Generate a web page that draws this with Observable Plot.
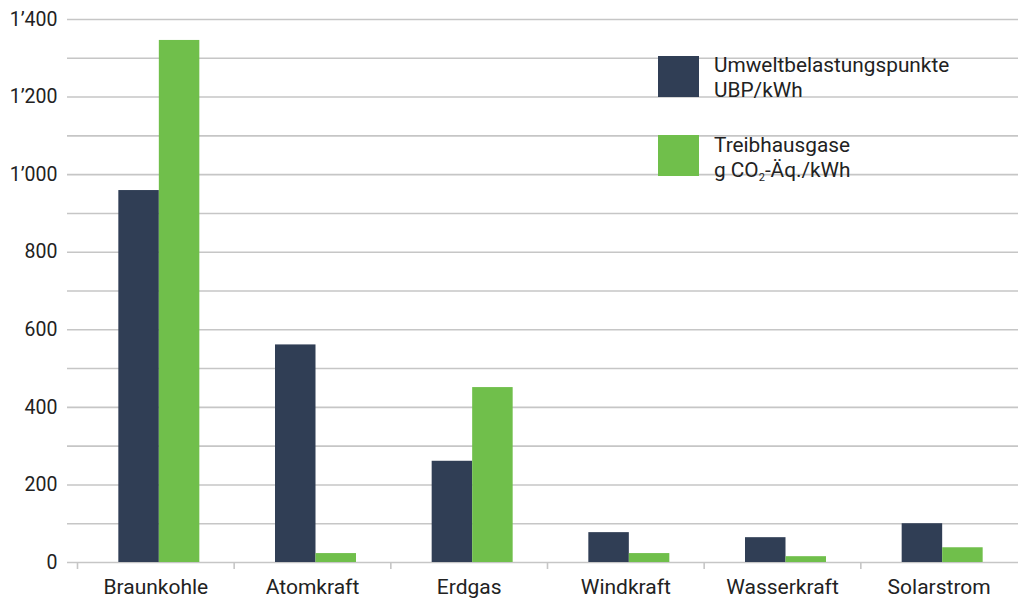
<!DOCTYPE html>
<html>
<head>
<meta charset="utf-8">
<script src="https://cdn.jsdelivr.net/npm/d3@7"></script>
<script src="https://cdn.jsdelivr.net/npm/@observablehq/plot@0.6"></script>
<style>
  body { margin: 0; background: #fff; font-family: Roboto, "Noto Sans", sans-serif; color: #222; }
  #wrap { position: relative; width: 1018px; height: 602px; }
  .sw { position: absolute; left: 658px; width: 41px; height: 41px; }
  .lt { position: absolute; left: 714px; font-size: 20.8px; line-height: 25px; color: #222; white-space: nowrap; }
  .lt sub { font-size: 11px; vertical-align: -4px; line-height: 0; }
</style>
</head>
<body>
<div id="wrap"></div>
<script>
// ---- data ----
const categories = ["Braunkohle", "Atomkraft", "Erdgas", "Windkraft", "Wasserkraft", "Solarstrom"];
const ubpValues = [959, 561, 261, 77, 64, 100];        // Umweltbelastungspunkte UBP/kWh
const co2Values = [1346, 23, 451, 23, 15, 38];          // Treibhausgase g CO2-Äq./kWh
const yTickValues = [0, 200, 400, 600, 800, 1000, 1200, 1400];
const gridValues = [0, 100, 200, 300, 400, 500, 600, 700, 800, 900, 1000, 1100, 1200, 1300, 1400];
const seriesNames = ["Umweltbelastungspunkte", "Treibhausgase"];
const seriesColors = ["#303e55", "#70bf4b"];

const rows = categories.map((c, i) => ({cat: c, ubp: ubpValues[i], co2: co2Values[i]}));

const fmt = d3.formatLocale({decimal: ".", thousands: "\u2019", grouping: [3], currency: ["", ""]}).format(",");

const W = 1018, H = 602;
const xRange = [77, 1017];
const band = (xRange[1] - xRange[0]) / categories.length;
const barW = 40.5, shift = 3.5;
const leftStart = band / 2 - barW + shift;

const plot = Plot.plot({
  width: W,
  height: H,
  marginLeft: 67,
  marginRight: 0,
  marginTop: 19,
  marginBottom: 40,
  style: {fontFamily: "Roboto, 'Noto Sans', sans-serif", fontSize: "19px", color: "#222", background: "#fff"},
  x: {domain: categories, range: xRange, padding: 0, round: false, label: null},
  y: {domain: [0, 1400], nice: false, label: null},
  marks: [
    Plot.ruleY(gridValues, {stroke: "#c6c6c6", strokeWidth: 1.6}),
    Plot.ruleX(categories, {x: d => d, y1: 0, y2: 0, insetBottom: -7, dx: -band / 2, stroke: "#c6c6c6", strokeWidth: 1.6}),
    Plot.barY(rows, {x: "cat", y: "ubp", fill: seriesColors[0], insetLeft: leftStart, insetRight: band - leftStart - barW}),
    Plot.barY(rows, {x: "cat", y: "co2", fill: seriesColors[1], insetLeft: leftStart + barW, insetRight: band - leftStart - 2 * barW}),
    Plot.axisY(yTickValues, {tickSize: 0, tickPadding: 10, tickFormat: fmt, fontSize: 19.5, label: null}),
    Plot.axisX({tickSize: 0, tickPadding: 17, fontSize: 21, label: null})
  ]
});

const wrap = document.getElementById("wrap");
wrap.appendChild(plot);

const legend = [
  {color: seriesColors[0], swTop: 56, textTop: 52.5, html: seriesNames[0] + "<br>UBP/kWh"},
  {color: seriesColors[1], swTop: 135, textTop: 132.5, html: seriesNames[1] + "<br>g CO<sub>2</sub>-Äq./kWh"}
];
for (const l of legend) {
  const s = document.createElement("div");
  s.className = "sw"; s.style.top = l.swTop + "px"; s.style.background = l.color;
  wrap.appendChild(s);
  const t = document.createElement("div");
  t.className = "lt"; t.style.top = l.textTop + "px"; t.innerHTML = l.html;
  wrap.appendChild(t);
}
</script>
</body>
</html>
